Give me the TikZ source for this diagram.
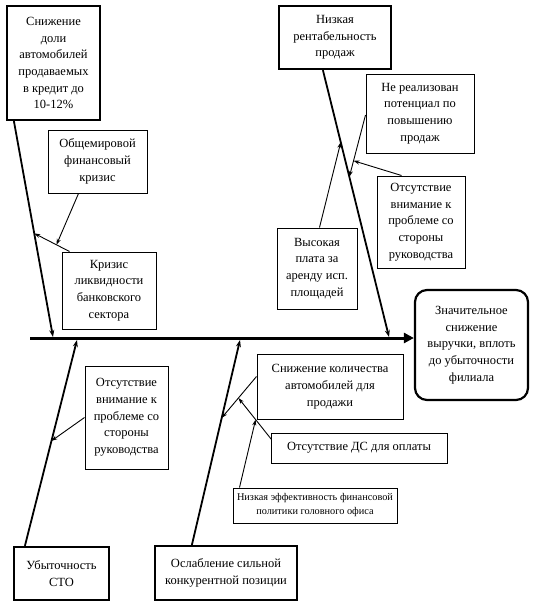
\documentclass[tikz,border=0pt]{standalone}
\usepackage{fontspec}
\setmainfont{Liberation Serif}
\usetikzlibrary{calc,arrows.meta}
\begin{document}
\begin{tikzpicture}[x=1pt,y=-1pt,
 box/.style={draw, line width=1pt, align=center, inner sep=0pt, font=\fontsize{12.5}{16.7}\selectfont},
 thickbox/.style={box, line width=2.2pt},
 smallbox/.style={box, font=\fontsize{10.3}{14}\selectfont},
 bone/.style={line width=1.8pt, -{Stealth[length=7pt,width=5pt]}},
 conn/.style={line width=0.9pt, -{Stealth[length=6pt,width=4pt]}},
 spine/.style={line width=3pt, -{Triangle[length=10pt,width=10pt]}},
]
\useasboundingbox (0,0) rectangle (536,605);
% nodes
\node[thickbox, minimum width=93pt, minimum height=114pt] (b1) at (53.5,63) {Снижение\\доли\\автомобилей\\продаваемых\\в кредит до\\10-12\%};
\node[box, minimum width=99pt, minimum height=63pt] (b2) at (97.5,161.5) {Общемировой\\финансовый\\кризис};
\node[thickbox, minimum width=112pt, minimum height=63pt] (b3) at (335,37.5) {Низкая\\рентабельность\\продаж};
\node[box, minimum width=108pt, minimum height=79pt] (b4) at (420,113.5) {Не реализован\\потенциал по\\повышению\\продаж};
\node[box, minimum width=88pt, minimum height=92pt] (b5) at (421,222) {Отсутствие\\внимание к\\проблеме со\\стороны\\руководства};
\node[box, minimum width=80pt, minimum height=81pt] (b6) at (317,268.5) {Высокая\\плата за\\аренду исп.\\площадей};
\node[box, minimum width=94pt, minimum height=77pt] (b7) at (109,290.5) {Кризис\\ликвидности\\банковского\\сектора};
\node[thickbox, rounded corners=12pt, minimum width=113pt, minimum height=110pt] (eff) at (471.5,345) {Значительное\\снижение\\выручки, вплоть\\до убыточности\\филиала};
\node[box, minimum width=83pt, minimum height=103pt] (b10) at (126.5,417.5) {Отсутствие\\внимание к\\проблеме со\\стороны\\руководства};
\node[box, minimum width=146pt, minimum height=65pt] (b11) at (330,386.5) {Снижение количества\\автомобилей для\\продажи};
\node[box, minimum width=176pt, minimum height=30pt] (b12) at (359,448) {Отсутствие ДС для оплаты};
\node[smallbox, minimum width=164pt, minimum height=35pt] (b13) at (315,505.5) {Низкая эффективность финансовой\\политики головного офиса};
\node[thickbox, minimum width=95pt, minimum height=53pt] (b14) at (61.5,573.5) {Убыточность\\СТО};
\node[thickbox, minimum width=142pt, minimum height=54pt] (b15) at (226,573) {Ослабление сильной\\конкурентной позиции};
% spine
\coordinate (sp0) at (30,338);
\draw[spine] (sp0) -- (eff.west |- sp0);
% bones
\coordinate (s1) at (53,337);
\coordinate (s2) at (389,337);
\coordinate (s3) at (77,340);
\coordinate (s4) at (240,340);
\coordinate (b1a) at ($(b1.south west)+(8,0)$);
\coordinate (b3a) at ($(b3.south west)+(45,0)$);
\coordinate (b14a) at ($(b14.north west)+(12,0)$);
\coordinate (b15a) at ($(b15.north west)+(38,0)$);
\draw[bone] (b1a) -- (s1);
\draw[bone] (b3a) -- (s2);
\draw[bone] (b14a) -- (s3);
\draw[bone] (b15a) -- (s4);
% connectors
\coordinate (c7a) at ($(b7.north west)+(8,0)$);
\coordinate (c7b) at ($(b1a)!0.52!(s1)$);
\draw[conn] (c7a) -- (c7b);
\coordinate (c2a) at ($(b2.south west)+(31,0)$);
\coordinate (c2b) at ($(c7a)!0.37!(c7b)$);
\draw[conn] (c2a) -- (c2b);
\coordinate (c4a) at ($(b4.west)+(0,1.5)$);
\coordinate (c4b) at ($(b3a)!0.40!(s2)$);
\draw[conn] (c4a) -- (c4b);
\coordinate (c5a) at ($(b5.north west)+(25,0)$);
\coordinate (c5b) at ($(c4a)!0.74!(c4b)$);
\draw[conn] (c5a) -- (c5b);
\coordinate (c6a) at ($(b6.north west)+(43,0)$);
\coordinate (c6b) at ($(b3a)!0.27!(s2)$);
\draw[conn] (c6a) -- (c6b);
\coordinate (c10a) at (b10.west);
\coordinate (c10b) at ($(b14a)!0.51!(s3)$);
\draw[conn] (c10a) -- (c10b);
\coordinate (c11a) at ($(b11.north west)+(0,23)$);
\coordinate (c11b) at ($(b15a)!0.62!(s4)$);
\draw[conn] (c11a) -- (c11b);
\coordinate (c12a) at ($(b12.north west)+(1,7)$);
\coordinate (c12b) at ($(c11a)!0.52!(c11b)$);
\draw[conn] (c12a) -- (c12b);
\coordinate (c13a) at ($(b13.north west)+(7,0)$);
\coordinate (c13b) at ($(c12a)!0.48!(c12b)$);
\draw[conn] (c13a) -- (c13b);
\end{tikzpicture}
\end{document}
